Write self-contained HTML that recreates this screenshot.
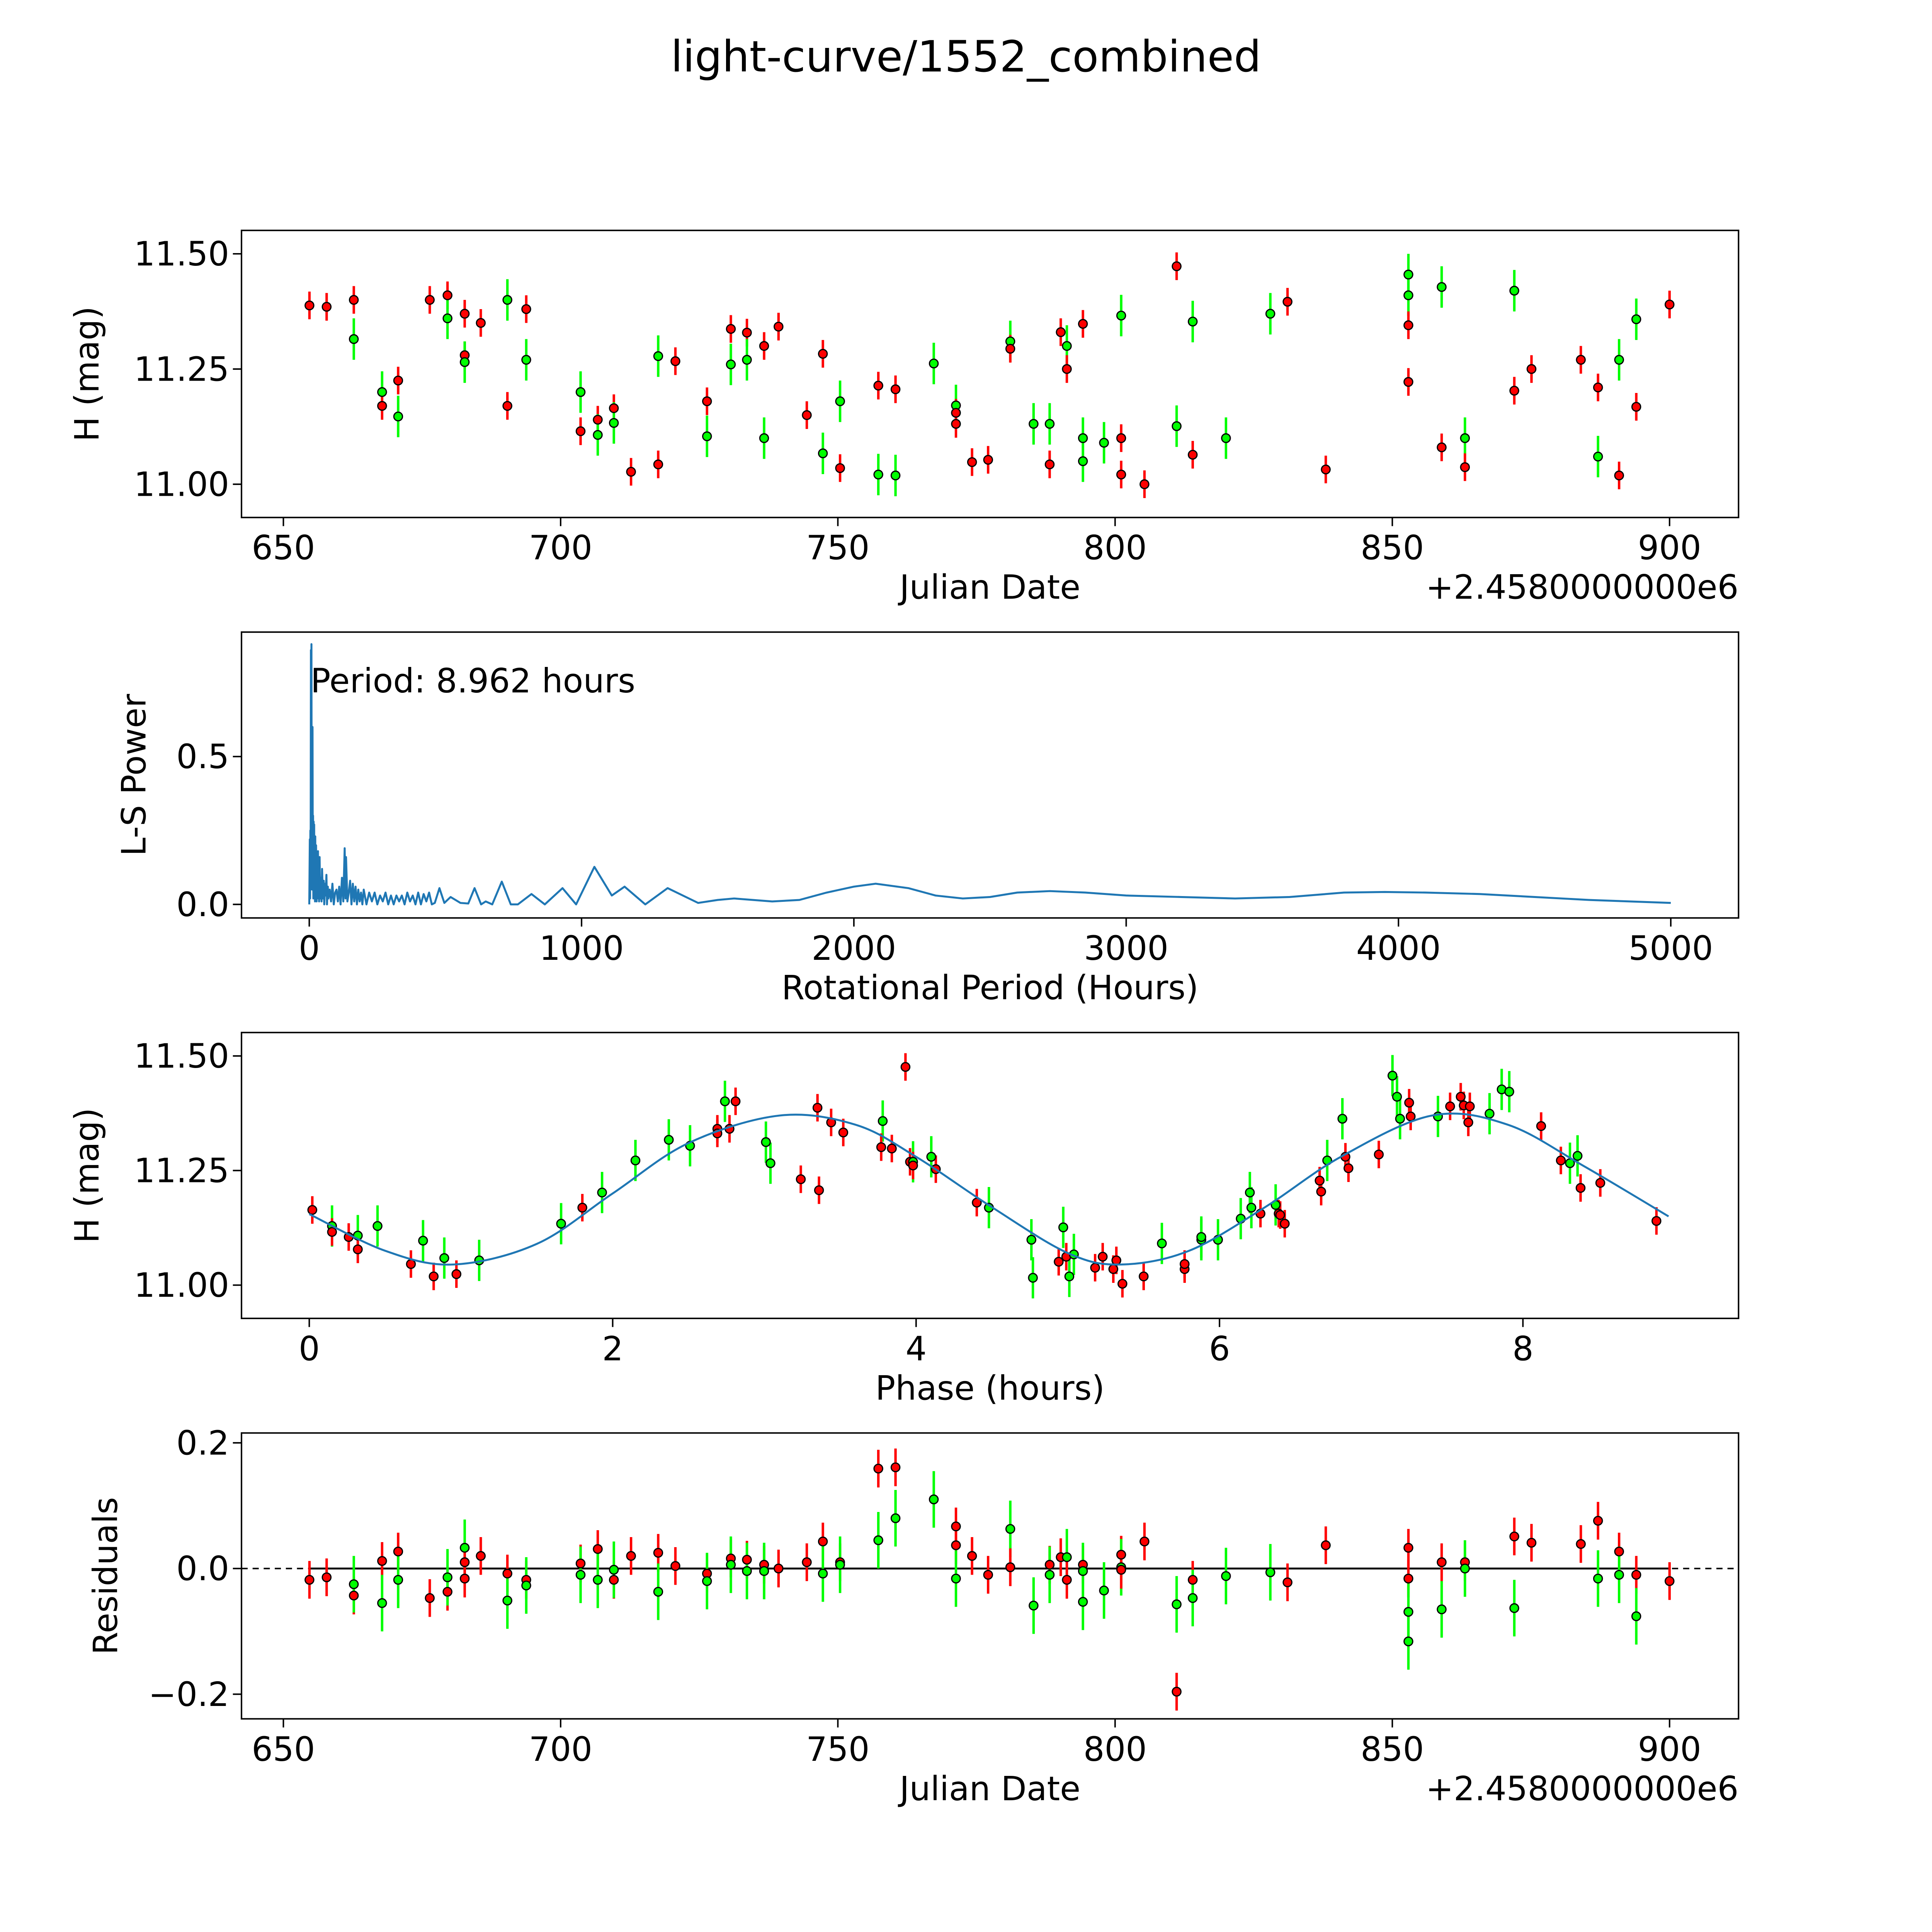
<!DOCTYPE html>
<html><head><meta charset="utf-8">
<style>
html,body{margin:0;padding:0;background:#fff;overflow:hidden;}
svg{display:block;width:100vw;height:100vw;}
text{font-family:"DejaVu Sans","Liberation Sans",sans-serif;fill:#000;}
</style></head>
<body>
<svg id="fig" xmlns="http://www.w3.org/2000/svg" viewBox="0 0 1568 1568" preserveAspectRatio="xMinYMin meet">
<rect x="0" y="0" width="1568" height="1568" fill="#fff"/>
<text x="784" y="58" font-size="35" text-anchor="middle">light-curve/1552_combined</text>
<g id="p1"></g>
<g id="p2"></g>
<g id="p3"></g>
<g id="p4"></g>
</svg>
<script>
// ---------- data ----------
const dates1 = [654.7,657.8,662.7,662.7,667.8,667.8,670.7,670.7,676.4,679.6,679.6,682.7,682.7,682.7,685.6,690.4,690.4,693.8,693.8,703.6,703.6,706.7,706.7,709.6,709.6,712.7,717.6,717.6,720.7,726.4,726.4,730.7,730.7,733.6,733.6,736.7,736.7,739.3,744.4,747.3,747.3,750.4,750.4,757.3,757.3,760.4,760.4,767.3,771.3,771.3,771.3,774.2,777.1,781.1,781.1,785.3,788.2,788.2,790.2,791.3,791.3,794.2,794.2,794.2,798,801.1,801.1,801.1,805.3,811.1,811.1,814,814,820,828,831.1,838,852.9,852.9,852.9,852.9,858.9,858.9,863.1,863.1,872,872,875.1,884,887.1,887.1,890.9,890.9,894,894,900];
const mags1 = [11.388,11.385,11.40,11.315,11.20,11.17,11.225,11.147,11.40,11.41,11.36,11.37,11.28,11.265,11.35,11.40,11.17,11.38,11.27,11.20,11.115,11.14,11.107,11.165,11.133,11.027,11.278,11.043,11.267,11.18,11.104,11.337,11.26,11.329,11.27,11.30,11.10,11.342,11.15,11.283,11.067,11.18,11.035,11.214,11.021,11.206,11.019,11.262,11.171,11.155,11.131,11.048,11.053,11.31,11.294,11.131,11.131,11.043,11.33,11.30,11.25,11.348,11.10,11.05,11.09,11.366,11.10,11.021,11.00,11.473,11.126,11.353,11.064,11.10,11.37,11.396,11.032,11.455,11.41,11.345,11.222,11.428,11.08,11.10,11.037,11.42,11.203,11.25,11.27,11.21,11.06,11.27,11.019,11.358,11.168,11.39];
const cols1 = ['r','r','r','g','g','r','r','g','r','r','g','r','r','g','r','g','r','r','g','g','r','r','g','r','g','r','g','r','r','r','g','r','g','r','g','r','g','r','r','r','g','g','r','r','g','r','g','g','g','r','r','r','r','g','r','g','g','r','r','g','r','r','g','g','g','g','r','r','r','r','g','g','r','g','g','r','r','g','g','r','r','g','r','g','r','g','r','r','r','r','g','g','r','g','r','r'];

const periods = [0,2,3,4,5,6,7,8,9,10,11,12,13,14,15,16,17,18,19,20,21,22,23,25,27,28,30,32,33,35,36,38,40,42,45,47,50,53,55,58,60,63,65,68,70,75,80,85,90,95,100,105,110,115,120,125,130,133,135,140,145,150,155,160,165,170,175,180,185,190,195,200,210,220,230,240,250,260,270,280,290,300,310,320,330,340,350,360,370,380,390,400,410,420,430,440,450,461,478,496,519,555,584,607,631,648,672,707,740,766,816,865,930,980,1047,1111,1158,1234,1316,1428,1500,1560,1700,1800,1900,2000,2080,2200,2300,2400,2500,2600,2720,2850,3000,3200,3400,3600,3800,3950,4100,4300,4500,4700,5000];
const powers = [0.0,0.22,0.02,0.25,0.05,0.86,0.1,0.88,0.15,0.5,0.05,0.6,0.08,0.3,0.02,0.28,0.05,0.27,0.03,0.12,0.01,0.23,0.04,0.2,0.01,0.15,0.03,0.18,0.02,0.1,0.01,0.16,0.02,0.09,0.01,0.12,0.02,0.08,0.0,0.07,0.03,0.1,0.0,0.06,0.02,0.05,0.01,0.07,0.0,0.04,0.05,0.01,0.06,0.0,0.09,0.01,0.19,0.02,0.16,0.01,0.04,0.08,0.0,0.07,0.01,0.06,0.0,0.05,0.01,0.04,0.0,0.05,0.0,0.04,0.01,0.04,0.0,0.03,0.01,0.04,0.0,0.03,0.0,0.03,0.01,0.03,0.0,0.04,0.01,0.03,0.0,0.04,0.0,0.035,0.01,0.04,0.0,0.005,0.055,0.005,0.025,0.005,0.003,0.055,0.0,0.01,0.0,0.077,0.0,0.0,0.035,0.0,0.055,0.0,0.127,0.03,0.06,0.0,0.055,0.005,0.015,0.02,0.01,0.015,0.04,0.06,0.07,0.055,0.03,0.02,0.025,0.04,0.045,0.04,0.03,0.025,0.02,0.025,0.04,0.042,0.04,0.035,0.025,0.015,0.005];

const phases3 = [0.02,0.15,0.15,0.26,0.32,0.32,0.45,0.67,0.75,0.82,0.89,0.97,1.12,1.66,1.80,1.93,2.15,2.37,2.51,2.69,2.69,2.74,2.81,2.77,3.01,3.04,3.24,3.35,3.36,3.44,3.52,3.78,3.77,3.84,3.93,3.96,3.98,3.98,4.10,4.13,4.40,4.48,4.76,4.77,4.94,4.97,4.99,5.01,5.04,5.18,5.23,5.30,5.32,5.36,5.50,5.77,5.77,5.62,5.88,5.88,5.99,6.14,6.21,6.27,6.20,6.37,6.39,6.40,6.43,6.66,6.67,6.71,6.81,6.83,6.85,7.05,7.14,7.17,7.19,7.25,7.26,7.44,7.52,7.59,7.61,7.64,7.65,7.78,7.86,7.91,8.12,8.25,8.31,8.36,8.38,8.51,8.88];
const mags3 = [11.164,11.129,11.116,11.105,11.108,11.078,11.129,11.046,11.097,11.019,11.059,11.024,11.054,11.134,11.169,11.202,11.272,11.317,11.304,11.341,11.331,11.401,11.401,11.341,11.312,11.266,11.231,11.387,11.207,11.355,11.333,11.358,11.301,11.298,11.476,11.269,11.269,11.261,11.280,11.253,11.180,11.169,11.099,11.016,11.051,11.126,11.062,11.019,11.067,11.038,11.062,11.035,11.054,11.003,11.019,11.035,11.046,11.091,11.099,11.105,11.099,11.145,11.169,11.156,11.202,11.175,11.156,11.153,11.134,11.228,11.204,11.272,11.363,11.280,11.255,11.285,11.457,11.411,11.363,11.398,11.368,11.368,11.390,11.411,11.392,11.355,11.390,11.374,11.427,11.422,11.347,11.272,11.266,11.282,11.212,11.223,11.140];
const cols3 = ['r','g','r','r','g','r','g','r','g','r','g','r','g','g','r','g','g','g','g','r','r','g','r','r','g','g','r','r','r','r','r','g','r','r','r','r','g','r','g','r','r','g','g','g','r','g','r','g','g','r','r','r','r','r','r','r','r','g','g','g','g','g','g','r','g','g','r','r','r','r','r','g','g','r','r','r','g','g','g','r','r','g','r','r','r','r','r','g','g','g','r','r','g','g','r','r','r'];
const modelPhase = [0,0.5,0.95,1.5,2.0,2.5,3.1,3.6,4.0,4.5,5.0,5.35,5.8,6.3,6.8,7.4,7.9,8.4,8.96];
const modelMag = [11.155,11.075,11.045,11.09,11.2,11.31,11.37,11.35,11.28,11.17,11.07,11.045,11.075,11.17,11.28,11.37,11.35,11.26,11.15];

const dates4 = [654.7,657.8,662.7,662.7,667.8,667.8,670.7,670.7,676.4,679.6,679.6,682.7,682.7,682.7,685.6,690.4,690.4,693.8,693.8,703.6,703.6,706.7,706.7,709.6,709.6,712.7,717.6,717.6,720.7,726.4,726.4,730.7,730.7,733.6,733.6,736.7,736.7,739.3,744.4,747.3,747.3,750.4,750.4,757.3,757.3,760.4,760.4,767.3,771.3,771.3,771.3,774.2,777.1,781.1,781.1,785.3,788.2,788.2,790.2,791.3,791.3,794.2,794.2,794.2,798,801.1,801.1,801.1,805.3,811.1,811.1,814,814,820,828,831.1,838,852.9,852.9,852.9,852.9,858.9,858.9,863.1,863.1,872,872,875.1,884,887.1,887.1,890.9,890.9,894,894,900];
const res4 = [-0.018,-0.014,-0.043,-0.025,0.012,-0.055,0.027,-0.018,-0.047,-0.037,-0.014,0.033,0.01,-0.016,0.02,-0.008,-0.051,-0.018,-0.027,0.008,-0.01,0.031,-0.018,-0.018,-0.002,0.02,0.025,-0.037,0.004,-0.008,-0.02,0.016,0.006,0.014,-0.004,0.006,-0.004,0.0,0.01,0.043,-0.008,0.01,0.006,0.159,0.045,0.161,0.08,0.11,0.067,0.037,-0.016,0.02,-0.01,0.063,0.002,-0.059,0.006,-0.01,0.018,0.018,-0.018,0.006,-0.004,-0.053,-0.035,0.022,0.002,-0.002,0.043,-0.196,-0.057,-0.018,-0.047,-0.012,-0.006,-0.022,0.037,0.033,-0.016,-0.069,-0.116,0.01,-0.065,0.01,0.0,0.051,-0.063,0.041,0.039,0.076,-0.016,0.027,-0.01,-0.01,-0.076,-0.02];
const cols4 = ['r','r','r','g','r','g','r','g','r','r','g','g','r','r','r','r','g','r','g','r','g','r','g','r','g','r','r','g','r','r','g','r','g','r','g','r','g','r','r','r','g','r','g','r','g','r','g','g','r','r','g','r','r','g','r','g','r','g','r','g','r','r','g','g','g','r','g','r','r','r','g','r','g','g','g','r','r','r','r','g','g','r','g','r','g','r','g','r','r','r','g','r','g','r','g','r'];
const errRed = 0.03;
const errGreen = 0.045;

const ticks1 = [650,700,750,800,850,900];
const yticks1 = [11.00,11.25,11.50];
const ticks2 = [0,1000,2000,3000,4000,5000];
const yticks2 = [0.0,0.5];
const ticks3 = [0,2,4,6,8];
const yticks4 = [-0.2,0.0,0.2];

// ---------- helpers ----------
const NS = 'http://www.w3.org/2000/svg';
function mk(parent, tag, attrs, txt){
  const e = document.createElementNS(NS, tag);
  for (const k in attrs) e.setAttribute(k, attrs[k]);
  if (txt !== undefined) e.textContent = txt;
  parent.appendChild(e);
  return e;
}
function lin(d0,d1,p0,p1){ return v => p0 + (v-d0)*(p1-p0)/(d1-d0); }
const COL = {r:'#ff0000', g:'#00ff00'};
const FS = 27;

function frame(g, box, xs, ys, xt, yt, xfmt, yfmt, xlabel, ylabel, ylabX, offset){
  const [L,T,R,B] = box;
  for (const v of xt){
    const x = xs(v);
    const t = mk(g,'line',{x1:x,y1:B,x2:x,y2:B+7,stroke:'#000','stroke-width':1.2});
    
    
    const l = mk(g,'text',{x:x,y:B+34,'font-size':FS,'text-anchor':'middle'},xfmt(v));
    
    
  }
  for (const v of yt){
    const y = ys(v);
    const t = mk(g,'line',{x1:L-7,y1:y,x2:L,y2:y,stroke:'#000','stroke-width':1.2});
    
    
    const l = mk(g,'text',{x:L-10,y:y+9.5,'font-size':FS,'text-anchor':'end'},yfmt(v));
    
    
  }
  const xl = mk(g,'text',{x:(L+R)/2,y:B+66,'font-size':FS,'text-anchor':'middle'},xlabel);
  
  
  const cy=(T+B)/2;
  const yl = mk(g,'text',{x:ylabX,y:cy,'font-size':FS,'text-anchor':'middle',transform:`rotate(-90 ${ylabX} ${cy})`},ylabel);
  
  
  if (offset){
    const o = mk(g,'text',{x:R,y:B+66,'font-size':FS,'text-anchor':'end'},offset);
    
    
  }
}
function border(g, box){
  const [L,T,R,B]=box;
  const r = mk(g,'rect',{x:L,y:T,width:R-L,height:B-T,fill:'none',stroke:'#000','stroke-width':1.2});
  
  
}
function points(g, xsArr, ysArr, cArr, xs, ys){
  for (let i=0;i<xsArr.length;i++){
    const c = cArr[i], e = c==='r'?errRed:errGreen;
    const x = xs(xsArr[i]);
    const eb = mk(g,'line',{x1:x,y1:ys(ysArr[i]-e),x2:x,y2:ys(ysArr[i]+e),stroke:COL[c],'stroke-width':2});
    
    
  }
  for (let i=0;i<xsArr.length;i++){
    const c = cArr[i];
    const p = mk(g,'circle',{cx:xs(xsArr[i]),cy:ys(ysArr[i]),r:3.5,fill:COL[c],stroke:'#000','stroke-width':1});
    
    
  }
}
const f2 = v => v.toFixed(2);
const f1 = v => (v<0?'\u2212':'')+Math.abs(v).toFixed(1);
const f0 = v => String(v);

// ---------- panel 1 ----------
(function(){
  const g = document.getElementById('p1');
  const box=[196,187,1411,420];
  const xs = lin(650,900,230,1355), ys = lin(11.0,11.5,393,206);
  frame(g,box,xs,ys,ticks1,yticks1,f0,f2,'Julian Date','H (mag)',80,'+2.4580000000e6');
  points(g,dates1,mags1,cols1,xs,ys);
  border(g,box);
})();

// ---------- panel 2 ----------
(function(){
  const g = document.getElementById('p2');
  const box=[196,513,1411,745];
  const xs = lin(0,5000,251,1356), ys = lin(0,0.5,734,614);
  frame(g,box,xs,ys,ticks2,yticks2,f0,f1,'Rotational Period (Hours)','L-S Power',118,null);
  let d='';
  for (let i=0;i<periods.length;i++) d += (i?'L':'M')+xs(periods[i]).toFixed(2)+','+ys(powers[i]).toFixed(2);
  const p = mk(g,'path',{d:d,fill:'none',stroke:'#1f77b4','stroke-width':1.6,'stroke-linejoin':'round'});
  
  
  const t = mk(g,'text',{x:252,y:562,'font-size':FS},'Period: 8.962 hours');
  
  
  border(g,box);
})();

// ---------- panel 3 ----------
(function(){
  const g = document.getElementById('p3');
  const box=[196,838,1411,1070];
  const xs = lin(0,8,251,1236), ys = lin(11.0,11.5,1043,857);
  frame(g,box,xs,ys,ticks3,yticks1,f0,f2,'Phase (hours)','H (mag)',80,null);
  points(g,phases3,mags3,cols3,xs,ys);
  const P = modelPhase.map((v,i)=>[xs(v),ys(modelMag[i])]);
  let d='M'+P[0][0]+','+P[0][1];
  for (let i=0;i<P.length-1;i++){
    const p0=P[Math.max(0,i-1)],p1=P[i],p2=P[i+1],p3=P[Math.min(P.length-1,i+2)];
    const c1=[p1[0]+(p2[0]-p0[0])/6,p1[1]+(p2[1]-p0[1])/6];
    const c2=[p2[0]-(p3[0]-p1[0])/6,p2[1]-(p3[1]-p1[1])/6];
    d+=`C${c1[0]},${c1[1]} ${c2[0]},${c2[1]} ${p2[0]},${p2[1]}`;
  }
  const m = mk(g,'path',{d:d,fill:'none',stroke:'#1f77b4','stroke-width':1.6});
  
  
  border(g,box);
})();

// ---------- panel 4 ----------
(function(){
  const g = document.getElementById('p4');
  const box=[196,1163,1411,1395];
  const xs = lin(650,900,230,1355), ys = lin(0,0.2,1273,1171);
  frame(g,box,xs,ys,ticks1,yticks4,f0,f1,'Julian Date','Residuals',95,'+2.4580000000e6');
  const z1 = mk(g,'line',{x1:196,y1:ys(0),x2:1411,y2:ys(0),stroke:'#000','stroke-width':1.2,'stroke-dasharray':'5,4'});
  
  
  const z2 = mk(g,'line',{x1:xs(dates4[0]),y1:ys(0),x2:xs(dates4[dates4.length-1]),y2:ys(0),stroke:'#000','stroke-width':1.5});
  
  
  points(g,dates4,res4,cols4,xs,ys);
  border(g,box);
})();
</script>
</body></html>
